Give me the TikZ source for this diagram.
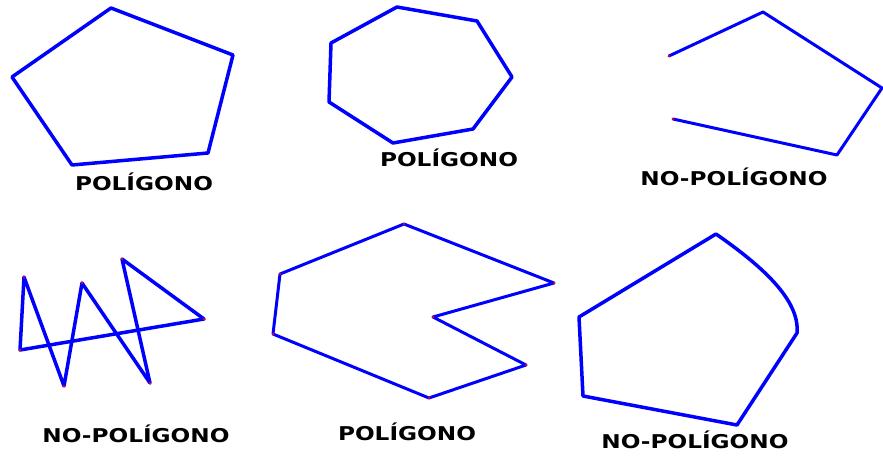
\documentclass[tikz,border=0pt]{standalone}
\usepackage{fontspec}
\setmainfont{DejaVu Sans}
\begin{document}
\begin{tikzpicture}[x=1pt,y=-1pt,
  shp/.style={draw={rgb,255:red,0;green,0;blue,255}, line width=3.5pt, line join=round, line cap=round},
  lbl/.style={anchor=base, inner sep=0pt, font=\fontsize{19}{22}\selectfont\bfseries, text=black},
  vdot/.style={fill=red, inner sep=0pt, minimum size=2.5pt, circle}]
\useasboundingbox (0,0) rectangle (883,455);
% shape 1
\coordinate (a1) at (111,8);
\coordinate (a2) at (233,55);
\coordinate (a3) at (208,153);
\coordinate (a4) at (72,165);
\coordinate (a5) at (12,77);
\draw[shp] (a1) -- (a2) -- (a3) -- (a4) -- (a5) -- cycle;
\node[lbl] (t1) at (144,190) {\scalebox{1.22}[1]{POLÍGONO}};
% shape 2
\coordinate (b1) at (397,7);
\coordinate (b2) at (477,21);
\coordinate (b3) at (512,77);
\coordinate (b4) at (473,129);
\coordinate (b5) at (393,143);
\coordinate (b6) at (329,102);
\coordinate (b7) at (331,43);
\draw[shp] (b1) -- (b2) -- (b3) -- (b4) -- (b5) -- (b6) -- (b7) -- cycle;
\node[lbl] (t2) at (449,166) {\scalebox{1.22}[1]{POLÍGONO}};
% shape 3
\coordinate (c1) at (669,56);
\coordinate (c2) at (763,12);
\coordinate (c3) at (882,88);
\coordinate (c4) at (837,155);
\coordinate (c5) at (673,119);
\draw[shp, line width=3pt] (c1) -- (c2) -- (c3) -- (c4) -- (c5);
\node[vdot] at (c1) {};
\node[vdot] at (c5) {};
\node[lbl] (t3) at (734,185) {\scalebox{1.22}[1]{NO-POLÍGONO}};
% shape 4
\coordinate (d1) at (20,350);
\coordinate (d2) at (24,277);
\coordinate (d3) at (64,386);
\coordinate (d4) at (82,283);
\coordinate (d5) at (150,383);
\coordinate (d6) at (122,259);
\coordinate (d7) at (204,319);
\draw[shp] (d1) -- (d2) -- (d3) -- (d4) -- (d5) -- (d6) -- (d7) -- cycle;
\foreach \p in {d1,d2,d3,d4,d5,d6,d7} \node[vdot] at (\p) {};
\node[lbl] (t4) at (136,442) {\scalebox{1.22}[1]{NO-POLÍGONO}};
% shape 5
\coordinate (e1) at (404,224);
\coordinate (e2) at (554,283);
\coordinate (e3) at (433,317);
\coordinate (e4) at (526,365);
\coordinate (e5) at (429,398);
\coordinate (e6) at (273,334);
\coordinate (e7) at (280,274);
\draw[shp, line width=3pt] (e1) -- (e2) -- (e3) -- (e4) -- (e5) -- (e6) -- (e7) -- cycle;
\foreach \p in {e1,e2,e3,e4,e5,e6,e7} \node[vdot] at (\p) {};
\node[lbl] (t5) at (407,440) {\scalebox{1.22}[1]{POLÍGONO}};
% shape 6
\coordinate (f1) at (716,234);
\coordinate (f2) at (797,333);
\coordinate (f3) at (737,425);
\coordinate (f4) at (583,396);
\coordinate (f5) at (579,317);
\draw[shp] (f1) .. controls (762,266) and (800,300) .. (f2) -- (f3) -- (f4) -- (f5) -- cycle;
\node[lbl] (t6) at (695,448) {\scalebox{1.22}[1]{NO-POLÍGONO}};
\end{tikzpicture}
\end{document}
